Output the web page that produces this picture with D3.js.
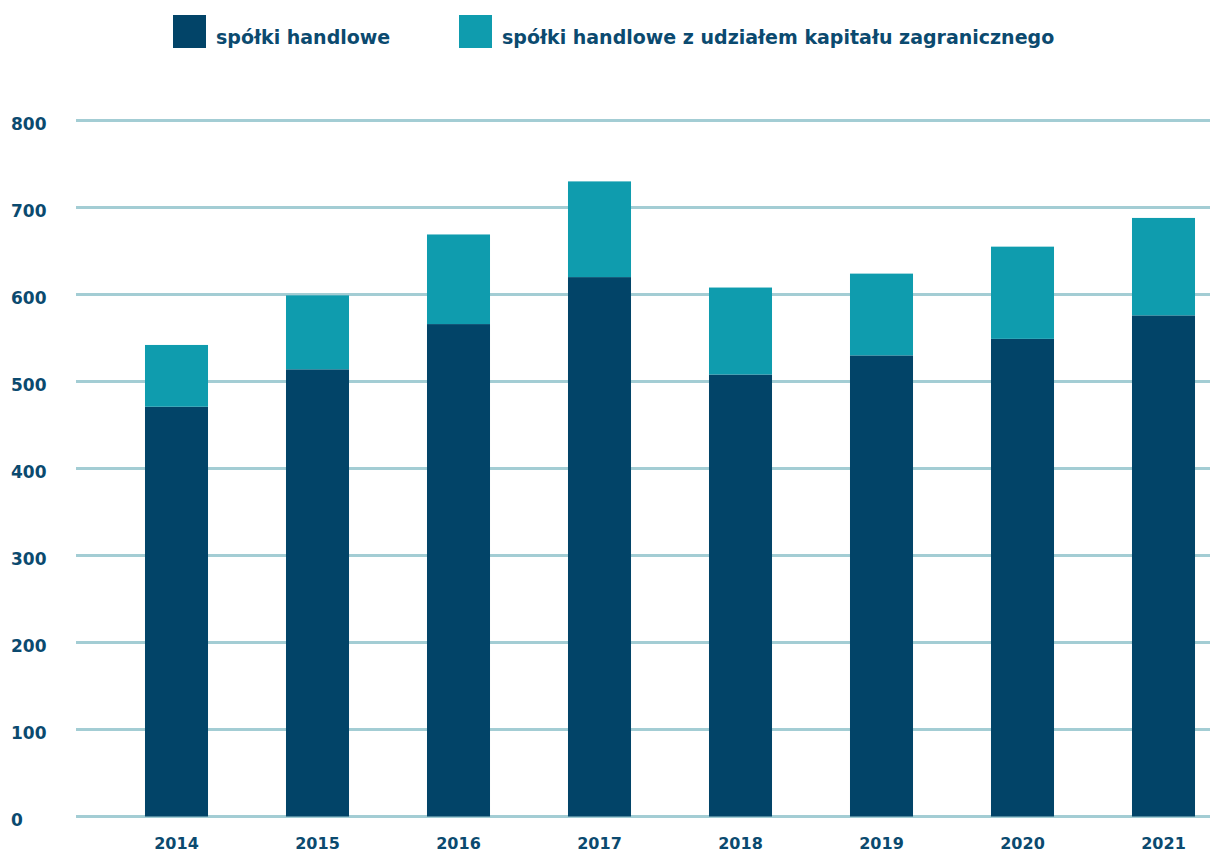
<!DOCTYPE html>
<html>
<head>
<meta charset="utf-8">
<script src="https://cdn.jsdelivr.net/npm/d3@7"></script>
<style>
  html, body { margin: 0; padding: 0; background: #ffffff; }
  svg { display: block; }
  text { font-family: "DejaVu Sans", "Open Sans", sans-serif; font-weight: 700; }
</style>
</head>
<body>
<svg id="chart" width="1210" height="853"></svg>
<script>
const years = ["2014", "2015", "2016", "2017", "2018", "2019", "2020", "2021"];
const domestic = [471, 514, 566, 620, 508, 530, 549, 576];
const foreign = [71, 85, 103, 110, 100, 94, 106, 112];
const seriesNames = ["spółki handlowe", "spółki handlowe z udziałem kapitału zagranicznego"];
const seriesColors = ["#024468", "#0f9cae"];
const yTicks = [0, 100, 200, 300, 400, 500, 600, 700, 800];

const svg = d3.select("#chart");
const textColor = "#0b4a6f";

const x = d3.scaleBand().domain(years).range([106, 1234]).paddingInner(0.553).paddingOuter(0.2765);
const y = d3.scaleLinear().domain([0, 800]).range([816.5, 120.5]);

// gridlines
svg.append("g").selectAll("line").data(yTicks).join("line")
  .attr("x1", 76).attr("x2", 1210)
  .attr("y1", d => y(d)).attr("y2", d => y(d))
  .attr("stroke", "#a3cdd4").attr("stroke-width", 3);

// y labels
svg.append("g").selectAll("text").data(yTicks).join("text")
  .attr("x", 11).attr("y", d => y(d) + 9)
  .attr("font-size", 17).attr("fill", textColor)
  .text(d => d);

// stacked data
const table = years.map((yr, i) => ({ year: yr, a: domestic[i], b: foreign[i] }));
const stack = d3.stack().keys(["a", "b"])(table);

svg.append("g").selectAll("g").data(stack).join("g")
  .attr("fill", (d, i) => seriesColors[i])
  .selectAll("rect").data(d => d).join("rect")
  .attr("x", d => x(d.data.year))
  .attr("width", x.bandwidth())
  .attr("y", d => y(d[1]))
  .attr("height", d => y(d[0]) - y(d[1]));

// x labels
svg.append("g").selectAll("text").data(years).join("text")
  .attr("x", d => x(d) + x.bandwidth() / 2)
  .attr("y", 849)
  .attr("text-anchor", "middle")
  .attr("font-size", 16).attr("fill", textColor)
  .text(d => d);

// legend
const legendX = [173, 459];
const lg = svg.append("g").selectAll("g").data(seriesNames).join("g")
  .attr("transform", (d, i) => `translate(${legendX[i]},15)`);
lg.append("rect").attr("width", 33).attr("height", 33).attr("fill", (d, i) => seriesColors[i]);
lg.append("text").attr("x", 43).attr("y", 29)
  .attr("font-size", 19).attr("fill", textColor)
  .text(d => d);
</script>
</body>
</html>
